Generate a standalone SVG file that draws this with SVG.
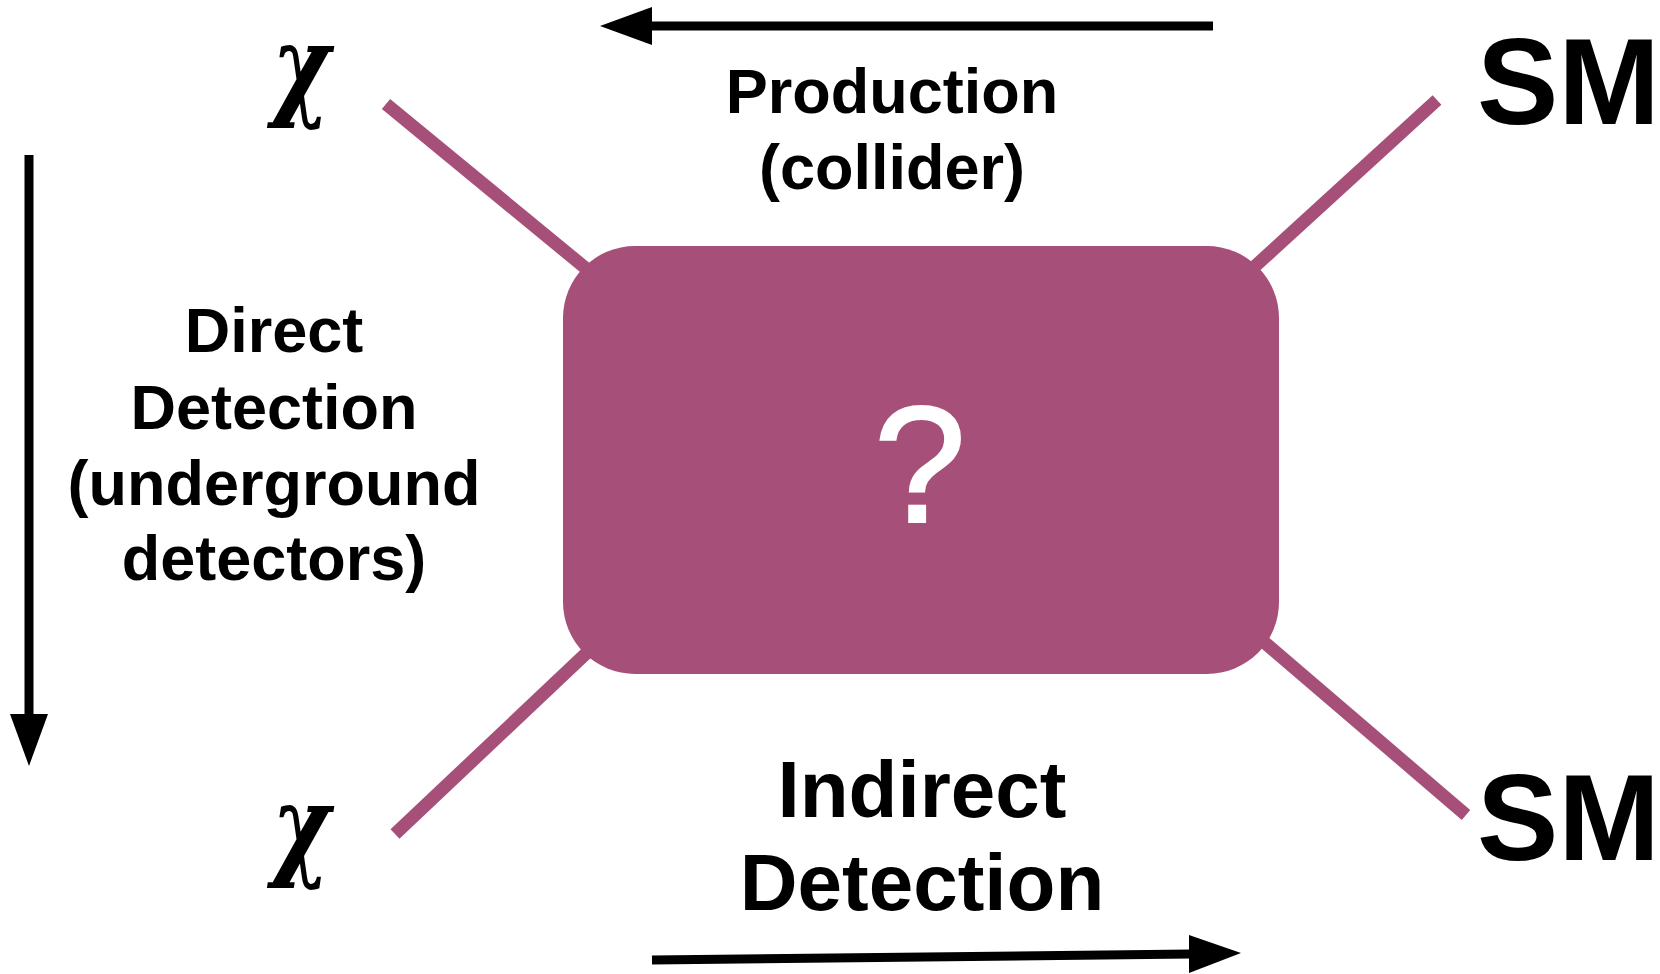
<svg xmlns="http://www.w3.org/2000/svg" width="1660" height="974" viewBox="0 0 1660 974">
<style>
.lbl{font-family:"Liberation Sans",Arial,sans-serif;font-weight:bold;fill:#000;text-anchor:middle}
.chi{font-family:"DejaVu Serif","Liberation Serif",serif;font-weight:bold;font-style:italic;fill:#000;font-size:113px;text-anchor:middle}
.sm{font-family:"Liberation Sans",Arial,sans-serif;font-weight:bold;fill:#000;font-size:122px}
.leg{stroke:#a64f79;stroke-width:13;fill:none}
.arr{stroke:#000;stroke-width:9;fill:none}
.head{fill:#000;stroke:none}
</style>
<rect width="1660" height="974" fill="#fff"/>
<g id="connectors">
<line class="leg" x1="386" y1="104" x2="600" y2="280"/>
<line class="leg" x1="1437" y1="100" x2="1240" y2="280"/>
<line class="leg" x1="395" y1="834" x2="595" y2="645"/>
<line class="leg" x1="1466" y1="815" x2="1250" y2="630"/>
<line class="arr" x1="1213" y1="26" x2="650" y2="26"/>
<polygon class="head" points="600,26 652,7 652,45"/>
<line class="arr" x1="29" y1="155" x2="29" y2="717"/>
<polygon class="head" points="29,766 10,714 48,714"/>
<line class="arr" x1="652" y1="960" x2="1191" y2="954"/>
<polygon class="head" points="1241,953 1189,935 1189,973"/>
</g>
<g id="box">
<rect x="563" y="246" width="716" height="428" rx="72" ry="72" fill="#a64f79"/>
<text x="920" y="522" text-anchor="middle" font-family="Liberation Sans, Arial, sans-serif" font-size="166" fill="#fff" stroke="#fff" stroke-width="2">?</text>
</g>
<g id="chi-top"><text class="chi" x="0" y="105" transform="translate(301,0) scale(0.78,1)">χ</text></g>
<g id="chi-bottom"><text class="chi" x="0" y="865" transform="translate(301,0) scale(0.78,1)">χ</text></g>
<g id="sm-top"><text class="sm" x="1477" y="124">SM</text></g>
<g id="sm-bottom"><text class="sm" x="1477" y="860">SM</text></g>
<g id="production-label">
<text class="lbl" font-size="63" x="892" y="113">Production</text>
<text class="lbl" font-size="63" x="892" y="189">(collider)</text>
</g>
<g id="direct-label">
<text class="lbl" font-size="63" x="274" y="352">Direct</text>
<text class="lbl" font-size="63" x="274" y="429">Detection</text>
<text class="lbl" font-size="63" x="274" y="505">(underground</text>
<text class="lbl" font-size="63" x="274" y="580">detectors)</text>
</g>
<g id="indirect-label">
<text class="lbl" font-size="80" x="922" y="817">Indirect</text>
<text class="lbl" font-size="80" x="922" y="910">Detection</text>
</g>
</svg>
